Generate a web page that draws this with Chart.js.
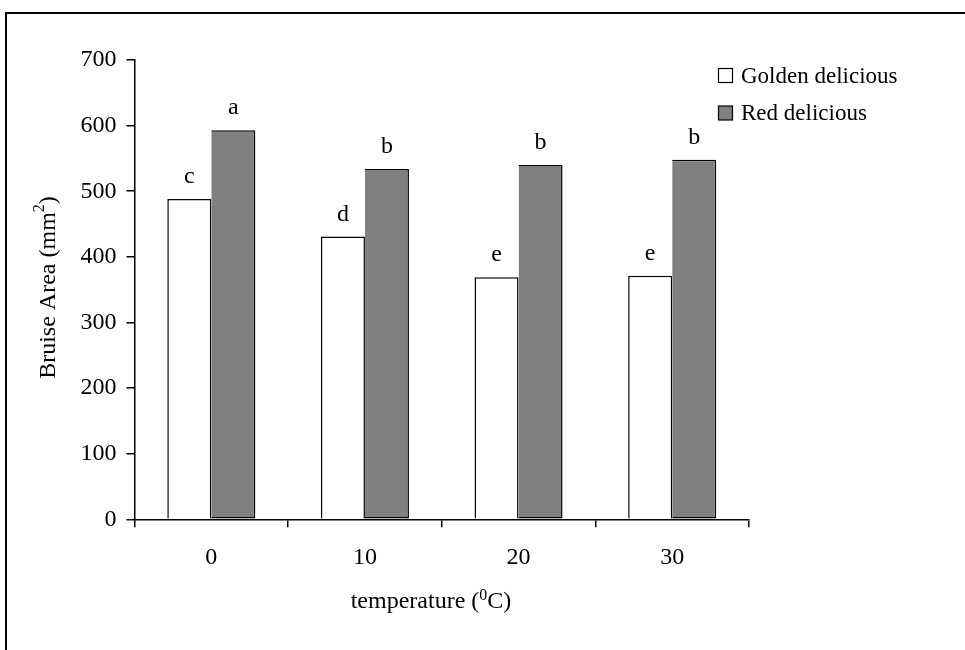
<!DOCTYPE html>
<html><head><meta charset="utf-8">
<script src="https://cdn.jsdelivr.net/npm/chart.js@4.4.1/dist/chart.umd.min.js"></script>
<style>html,body{margin:0;padding:0;background:#fff}#wrap{width:965px;height:650px;position:relative}</style>
</head><body><div id="wrap"><canvas id="c" width="965" height="650"></canvas></div>
<script>
const categories = ['0', '10', '20', '30'];
const seriesNames = ['Golden delicious', 'Red delicious'];
const goldenValues = [488, 431, 369, 371];
const redValues = [593, 534, 540, 548];
const goldenLetters = ['c', 'd', 'e', 'e'];
const redLetters = ['a', 'b', 'b', 'b'];
const yTickValues = [0, 100, 200, 300, 400, 500, 600, 700];
const xTitle = ['temperature (', '0', 'C)'];
const yTitle = ['Bruise Area (mm', '2', ')'];

const FONT = "'Liberation Serif', 'Times New Roman', serif";
Chart.defaults.font.family = FONT;
Chart.defaults.font.size = 24;
Chart.defaults.color = '#000';

const letters = [goldenLetters, redLetters];

const framePlugin = {
  id: 'frame',
  beforeDraw(chart) {
    const ctx = chart.ctx;
    ctx.save();
    ctx.strokeStyle = '#000';
    ctx.lineWidth = 2;
    ctx.strokeRect(6, 13, 2000, 2000);
    ctx.restore();
  }
};

function measureParts(ctx, parts, size, sub) {
  ctx.font = size + 'px ' + FONT;
  const w0 = ctx.measureText(parts[0]).width;
  ctx.font = sub + 'px ' + FONT;
  const w1 = ctx.measureText(parts[1]).width;
  ctx.font = size + 'px ' + FONT;
  const w2 = ctx.measureText(parts[2]).width;
  return [w0, w1, w2];
}

function drawParts(ctx, parts, w, x0, yb, size, sub, raise) {
  ctx.font = size + 'px ' + FONT; ctx.fillText(parts[0], x0, yb);
  ctx.font = sub + 'px ' + FONT; ctx.fillText(parts[1], x0 + w[0], yb - raise);
  ctx.font = size + 'px ' + FONT; ctx.fillText(parts[2], x0 + w[0] + w[1], yb);
}

const annotPlugin = {
  id: 'annot',
  afterDraw(chart) {
    const ctx = chart.ctx;
    ctx.save();
    ctx.fillStyle = '#000';
    // letters above bars
    ctx.font = '24px ' + FONT;
    ctx.textAlign = 'center';
    ctx.textBaseline = 'alphabetic';
    chart.data.datasets.forEach((ds, di) => {
      const meta = chart.getDatasetMeta(di);
      meta.data.forEach((bar, i) => {
        ctx.fillText(letters[di][i], bar.x, bar.y - 16);
      });
    });
    // legend
    ctx.textAlign = 'left';
    ctx.textBaseline = 'middle';
    chart.data.datasets.forEach((ds, di) => {
      const y = 75.5 + di * 37.5;
      ctx.fillStyle = ds.backgroundColor;
      ctx.fillRect(718.5, y - 7, 14, 14);
      ctx.strokeStyle = '#000';
      ctx.lineWidth = 1.2;
      ctx.strokeRect(718.5, y - 7, 14, 14);
      ctx.fillStyle = '#000';
      ctx.font = '23px ' + FONT;
      ctx.fillText(ds.label, 741, y + 1);
    });
    // x title
    const size = 24, sub = 16;
    ctx.textAlign = 'left';
    ctx.textBaseline = 'alphabetic';
    let w = measureParts(ctx, xTitle, size, sub);
    let total = w[0] + w[1] + w[2];
    drawParts(ctx, xTitle, w, 431 - total / 2, 608, size, sub, 8);
    // y title (rotated)
    w = measureParts(ctx, yTitle, size, sub);
    total = w[0] + w[1] + w[2];
    ctx.translate(55, 287.5);
    ctx.rotate(-Math.PI / 2);
    drawParts(ctx, yTitle, w, -total / 2, 0, size, sub, 11);
    ctx.restore();
  }
};

new Chart(document.getElementById('c'), {
  type: 'bar',
  data: {
    labels: categories,
    datasets: [
      { label: seriesNames[0], data: goldenValues, backgroundColor: '#ffffff', borderColor: '#000', borderWidth: 1.5, borderSkipped: 'bottom' },
      { label: seriesNames[1], data: redValues, backgroundColor: '#808080', borderColor: '#000', borderWidth: 1.5, borderSkipped: 'left' }
    ]
  },
  options: {
    responsive: false,
    animation: false,
    devicePixelRatio: 1,
    categoryPercentage: 0.573,
    barPercentage: 1,
    layout: { padding: { left: 0, top: 60, right: 216, bottom: 0 } },
    plugins: { legend: { display: false }, tooltip: { enabled: false } },
    scales: {
      x: {
        offset: true,
        grid: { offset: true, drawOnChartArea: false, drawTicks: true, tickLength: 8, color: '#000', lineWidth: 1.5 },
        border: { display: true, color: '#000', width: 1.5 },
        ticks: { padding: 16, color: '#000', font: { size: 24 }, maxRotation: 0 },
        afterFit(scale) { scale.height = 130.7; }
      },
      y: {
        min: 0, max: 700,
        grid: { drawOnChartArea: false, drawTicks: true, tickLength: 8, color: '#000', lineWidth: 1.5 },
        border: { display: true, color: '#000', width: 1.5 },
        ticks: { padding: 10, color: '#000', font: { size: 24 } },
        afterBuildTicks(scale) { scale.ticks = yTickValues.map(v => ({ value: v })); },
        afterFit(scale) { scale.width = 134.5; }
      }
    }
  },
  plugins: [framePlugin, annotPlugin]
});
</script></body></html>
